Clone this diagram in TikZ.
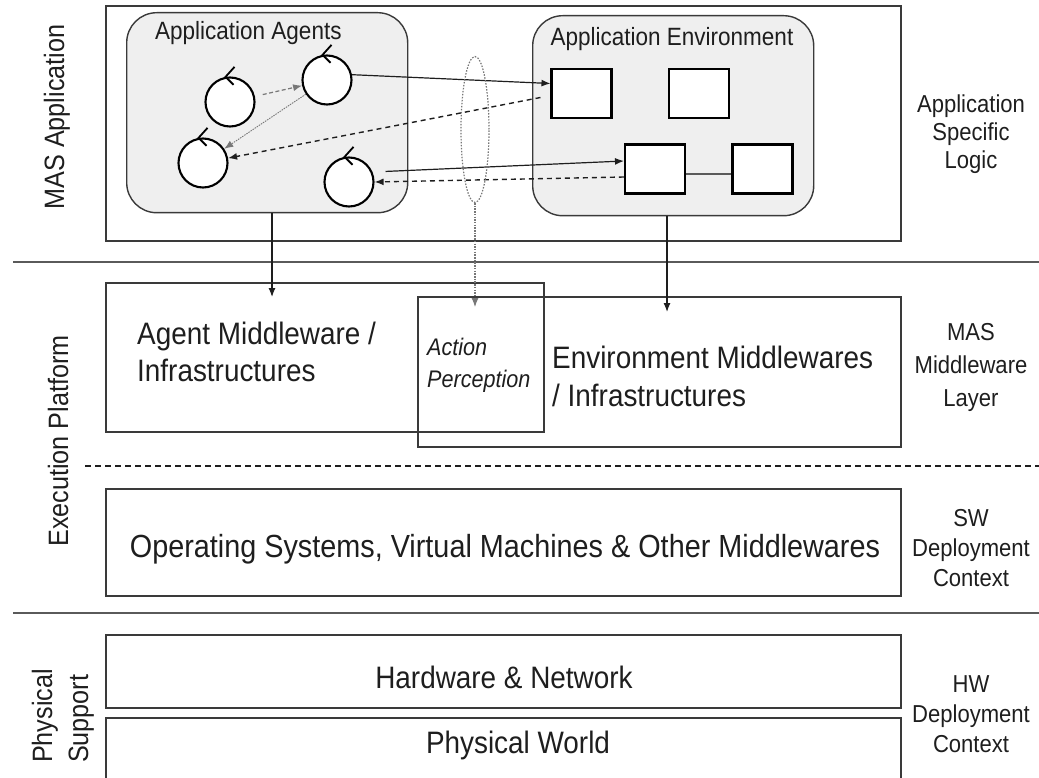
\documentclass[tikz,border=0pt]{standalone}
\usepackage{fontspec}
\setmainfont{Liberation Sans}[FakeStretch=0.9]
\usetikzlibrary{arrows.meta,shapes.geometric}
\definecolor{ink}{HTML}{1E1E1E}
\definecolor{framegray}{HTML}{3A3A3A}
\definecolor{rulegray}{HTML}{5A5A5A}
\definecolor{groupfill}{HTML}{EFEFEF}
\definecolor{dotgray}{HTML}{777777}
\newcommand\fsz[2]{\fontsize{#1}{#2}\selectfont}
\begin{document}
\begin{tikzpicture}[x=1pt,y=-1pt,
  layer/.style={draw=framegray, line width=1.7pt, anchor=north west, inner sep=0pt},
  group/.style={draw=framegray, fill=groupfill, line width=1.4pt, rounded corners=30pt, anchor=north west, inner sep=0pt},
  agent/.style={circle, draw=black, fill=white, line width=2.1pt, minimum size=49pt, inner sep=0pt},
  artefact/.style={draw=black, fill=white, line width=2.1pt, minimum width=60pt, minimum height=49pt, inner sep=0pt},
  rule/.style={draw=rulegray, line width=1.8pt},
  lbl/.style={text=ink, inner sep=0pt},
  tip/.style={-{Latex[length=9pt,width=7pt]}},
  solidarr/.style={tip, draw=ink, line width=1.2pt},
  dasharr/.style={tip, draw=ink, line width=1.4pt, dash pattern=on 5pt off 4pt},
  greydash/.style={tip, draw=dotgray, line width=1.2pt, dash pattern=on 4pt off 2.5pt},
  greydot/.style={tip, draw=dotgray, line width=0.9pt, dash pattern=on 1.5pt off 1pt},
  agentmark/.style={draw=black, line width=1.8pt}
]
\useasboundingbox (0,0) rectangle (1039,778);
\clip (0,0) rectangle (1039,778);

% ---- layer separators ----
\coordinate (r1a) at (13,262);  \coordinate (r1b) at (1039,262);
\coordinate (dla) at (85,466);  \coordinate (dlb) at (1039,466);
\coordinate (r2a) at (13,613);  \coordinate (r2b) at (1039,613);
\draw[rule] (r1a) -- (r1b);
\draw[rule] (r2a) -- (r2b);
\draw[draw=ink, line width=1.3pt, dash pattern=on 6pt off 4pt] (dla) -- (dlb);

% ---- MAS application layer ----
\node[layer, minimum width=795pt, minimum height=235pt] (app) at (105,5) {};
\node[group, minimum width=281pt, minimum height=200pt] (agents) at (126,12) {};
\node[group, minimum width=281pt, minimum height=200pt] (envgrp) at (532,15) {};
\node[lbl, anchor=base west, font=\fsz{25}{29}] (agentstitle) at (155,40) {Application Agents};
\node[lbl, anchor=base, font=\fsz{25}{29}] (envtitle) at (672,46) {Application Environment};

\node[agent] (c1) at (230,102) {};
\node[agent] (c2) at (327,80) {};
\node[agent] (c3) at (203,163) {};
\node[agent] (c4) at (349,182) {};
\foreach \a in {c1,c2,c3,c4}
  \draw[agentmark] ([shift={(9,-10)}]\a.100) -- (\a.100) -- ([shift={(8,8)}]\a.100);

\node[artefact] (s1) at (581.5,93.5) {};
\node[artefact] (s2) at (699,93.5) {};
\node[artefact] (s3) at (655,169) {};
\node[artefact] (s4) at (762.5,169) {};
\draw[draw=rulegray, line width=1.3pt] ([yshift=-5pt]s3.east) -- ([yshift=-5pt]s4.west);

% interactions between agents and environment
\draw[greydash, shorten <=8pt] (c1) -- (c2);
\draw[greydot] (c2) -- (c3);
\draw[solidarr] (c2.12) -- ([yshift=10pt]s1.west);
\draw[dasharr] ([xshift=-10pt,yshift=-4pt]s1.west) -- (c3);
\draw[solidarr, shorten <=13pt] (c4.23) -- ([yshift=8pt]s3.west);
\draw[dasharr] ([yshift=-8pt]s3.west) -- (c4.east);

\node[ellipse, draw=dotgray, line width=1.2pt, dash pattern=on 1.5pt off 1.5pt,
      minimum width=28pt, minimum height=146pt, inner sep=0pt] (percept) at (475,129.5) {};

% ---- MAS middleware layer ----
\node[layer, minimum width=438pt, minimum height=149pt] (agentmw) at (105,282) {};
\node[layer, minimum width=483pt, minimum height=150pt] (envmw) at (417,296) {};
\node[lbl, anchor=west, align=left, font=\fsz{31}{37}] (agentmwtext) at (137,352) {Agent Middleware /\\Infrastructures};
\node[lbl, anchor=west, align=left, font=\fsz{24}{32}\itshape] (actiontext) at (427,365) {Action\\Perception};
\node[lbl, anchor=west, align=left, font=\fsz{31}{38}] (envmwtext) at (552,376) {Environment Middlewares\\/ Infrastructures};

\coordinate (amwtip) at (272,297);
\coordinate (emwtip) at (667,312);
\coordinate (aptip) at (475,307);
\draw[solidarr] (agents.south -| amwtip) -- (amwtip);
\draw[solidarr] (envgrp.south -| emwtip) -- (emwtip);
\draw[tip, draw=dotgray, line width=1.1pt, dash pattern=on 1.5pt off 1.2pt] (percept.south) -- (aptip);

% ---- software deployment context ----
\node[layer, minimum width=795pt, minimum height=107pt] (os) at (105,488) {};
\node[lbl, font=\fsz{32}{38}] (ostext) at (505,549) {Operating Systems, Virtual Machines \& Other Middlewares};

% ---- physical support ----
\node[layer, minimum width=795pt, minimum height=73pt] (hw) at (105,634) {};
\node[layer, minimum width=795pt, minimum height=90pt] (pw) at (105,717) {};
\node[lbl, font=\fsz{31}{37}] (hwtext) at (504,677) {Hardware \& Network};
\node[lbl, font=\fsz{31}{37}] (pwtext) at (518,745) {Physical World};

% ---- side captions ----
\node[lbl, rotate=90, font=\fsz{28}{34}] (lapp) at (57,117) {MAS Application};
\node[lbl, rotate=90, font=\fsz{28}{34}] (lexec) at (58,441) {Execution Platform};
\node[lbl, rotate=90, align=left, font=\fsz{28}{36}] (lphys) at (63,716) {Physical\\Support};

\node[lbl, align=center, font=\fsz{24.5}{28}] (asl) at (971,134) {Application\\Specific\\Logic};
\node[lbl, align=center, font=\fsz{24.5}{33}] (mml) at (971,367) {MAS\\Middleware\\Layer};
\node[lbl, align=center, font=\fsz{24.5}{30}] (swctx) at (971,548) {SW\\Deployment\\Context};
\node[lbl, align=center, font=\fsz{24.5}{30}] (hwctx) at (971,714) {HW\\Deployment\\Context};
\end{tikzpicture}
\end{document}
